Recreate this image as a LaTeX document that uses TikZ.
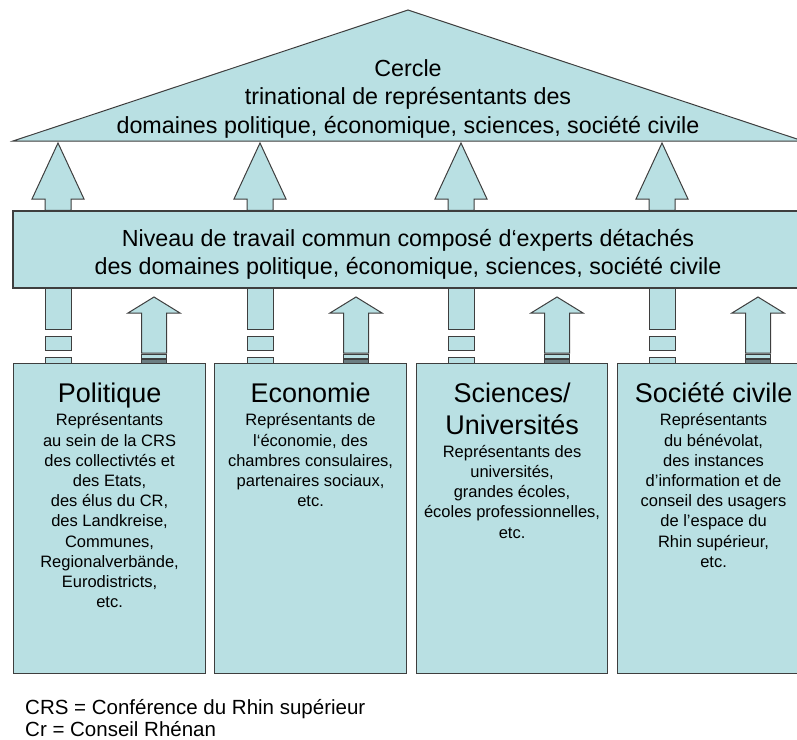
\documentclass[tikz,border=0pt]{standalone}
\usepackage{fontspec}
\setmainfont{Liberation Sans}
\usetikzlibrary{calc}

\definecolor{paleblue}{RGB}{185,224,227}
\definecolor{edgegray}{RGB}{62,62,62}
\definecolor{basegray}{RGB}{108,126,130}

\newcommand{\tstrut}{\rule{0pt}{1em}}
\newcommand{\bstrut}{\rule[-0.3em]{0pt}{0.3em}}
% block arrow: foot, tip, head length, half shaft width
\newcommand{\blockarrow}[4]{%
	\draw[blk] ($(#1)+(-#4,0)$) -- ($(#2)+(-#4,#3)$) -- ($(#2)+(-26,#3)$) -- (#2)
		-- ($(#2)+(26,#3)$) -- ($(#2)+(#4,#3)$) -- ($(#1)+(#4,0)$) -- cycle;}
% interrupted shaft below the band
\newcommand{\brokenshaft}[2]{%
	\draw[blk] ($(#1)+(-13,0)$) rectangle ($(#1)+(13,41)$);
	\draw[blk] ($(#2)+(-13,-27)$) rectangle ($(#2)+(13,-13)$);
	\draw[blk] ($(#2)+(-13,-6)$) rectangle ($(#2)+(13,0)$);}
% two plates under a rising arrow
\newcommand{\footstack}[1]{%
	\draw[blk] ($(#1)+(-12.5,-8.5)$) rectangle ($(#1)+(12.5,-4.5)$);
	\draw[blk, fill=basegray] ($(#1)+(-12.5,-4)$) rectangle ($(#1)+(12.5,0)$);}

\begin{document}
\begin{tikzpicture}[
	x=1bp, y=-1bp,
	cell/.style={
		rectangle,
		draw=edgegray,
		fill=paleblue,
		line width=1.1bp,
		inner sep=0pt,
	},
	blk/.style={% block arrows and plates
		draw=edgegray,
		fill=paleblue,
		line width=1bp,
		line join=miter,
	},
	head/.style={
		inner sep=0pt,
		align=center,
		font=\fontsize{23.3bp}{28.3bp}\selectfont,
	},
	title/.style={
		inner sep=0pt,
		align=center,
		anchor=north,
		font=\fontsize{27bp}{32bp}\selectfont,
	},
	body/.style={
		inner sep=0pt,
		align=center,
		anchor=north,
		font=\fontsize{16.5bp}{20.2bp}\selectfont,
	},
]
	\useasboundingbox (0,0) rectangle (797,740);
	\clip (0,0) rectangle (797,740);

	\coordinate (eaveL) at (13,141);
	\coordinate (ridge) at (408,10);
	\coordinate (eaveR) at (803,141);
	\coordinate (tips) at (0,143);
	\coordinate (lowtip) at (0,297);
	\coordinate (lowfoot) at (0,353);
	\coordinate (s1) at (58,0);
	\coordinate (s2) at (260,0);
	\coordinate (s3) at (461,0);
	\coordinate (s4) at (662,0);
	\coordinate (u1) at (154,0);
	\coordinate (u2) at (356,0);
	\coordinate (u3) at (557,0);
	\coordinate (u4) at (758,0);

	\draw[blk] (eaveL) -- (ridge) -- (eaveR) -- cycle;
	\node [head, anchor=north] (roof) at (408,53) {\tstrut Cercle\\trinational de représentants des\\domaines politique, économique, sciences, société civile};

	\node [cell, minimum width=790bp, minimum height=77bp] (band) at (408,249.5) {};
	\node [head] (bandtext) at (408,252)
		{\tstrut Niveau de travail commun composé d‘experts détachés\\des domaines politique, économique, sciences, société civile\bstrut};

	\node [cell, anchor=north west, minimum width=192bp, minimum height=310bp] (pol) at (13,363) {};
	\node [cell, anchor=north west, minimum width=192bp, minimum height=310bp] (eco) at (214,363) {};
	\node [cell, anchor=north west, minimum width=191bp, minimum height=310bp] (sci) at (416,363) {};
	\node [cell, anchor=north west, minimum width=192bp, minimum height=310bp] (soc) at (617,363) {};

	\node [title] (polT) at ($(pol.north)+(0,12.7)$) {\tstrut Politique};
	\node [body] (polB) at ($(pol.north)+(0,46.2)$) {\tstrut Représentants\\au sein de la CRS\\des collectivtés et\\des Etats,\\des élus du CR,\\des Landkreise,\\Communes,\\Regionalverbände,\\Eurodistricts,\\etc.};
	\node [title] (ecoT) at ($(eco.north)+(0,12.7)$) {\tstrut Economie};
	\node [body] (ecoB) at ($(eco.north)+(0,46.2)$) {\tstrut Représentants de\\l‘économie, des\\chambres consulaires,\\partenaires sociaux,\\etc.};
	\node [title] (sciT) at ($(sci.north)+(0,12.7)$) {\tstrut Sciences/\\Universités};
	\node [body] (sciB) at ($(sci.north)+(0,77.5)$) {\tstrut Représentants des\\universités,\\grandes écoles,\\écoles professionnelles,\\etc.};
	\node [title] (socT) at ($(soc.north)+(0,12.7)$) {\tstrut Société civile};
	\node [body] (socB) at ($(soc.north)+(0,46.2)$) {\tstrut Représentants\\du bénévolat,\\des instances\\d’information et de\\conseil des usagers\\de l’espace du\\Rhin supérieur,\\etc.};

	\node [inner sep=0pt, align=left, anchor=north west, font=\fontsize{20.5bp}{22bp}\selectfont] (note) at (25,694)
		{\tstrut CRS = Conférence du Rhin supérieur\\Cr = Conseil Rhénan};

	\blockarrow{band.north -| s1}{tips -| s1}{56}{13}
	\blockarrow{band.north -| s2}{tips -| s2}{56}{13}
	\blockarrow{band.north -| s3}{tips -| s3}{56}{13}
	\blockarrow{band.north -| s4}{tips -| s4}{56}{13}

	\brokenshaft{band.south -| s1}{pol.north -| s1}
	\brokenshaft{band.south -| s2}{eco.north -| s2}
	\brokenshaft{band.south -| s3}{sci.north -| s3}
	\brokenshaft{band.south -| s4}{soc.north -| s4}

	\blockarrow{lowfoot -| u1}{lowtip -| u1}{16}{12.5}
	\blockarrow{lowfoot -| u2}{lowtip -| u2}{16}{12.5}
	\blockarrow{lowfoot -| u3}{lowtip -| u3}{16}{12.5}
	\blockarrow{lowfoot -| u4}{lowtip -| u4}{16}{12.5}
	\footstack{pol.north -| u1}
	\footstack{eco.north -| u2}
	\footstack{sci.north -| u3}
	\footstack{soc.north -| u4}
\end{tikzpicture}
\end{document}
